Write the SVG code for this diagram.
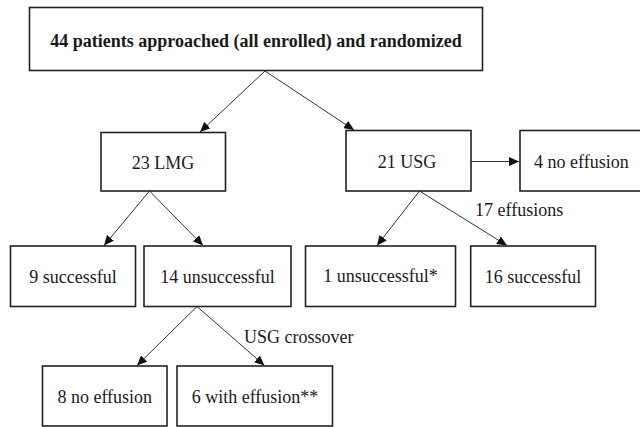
<svg xmlns="http://www.w3.org/2000/svg" width="640" height="427" viewBox="0 0 640 427">
<style>
.box{fill:#fff;stroke:#222;stroke-width:1.6}
.t{font-family:"Liberation Serif","Times New Roman",serif;font-size:18px;fill:#1a1a1a}
.c{text-anchor:middle}
.b{font-weight:bold}
.ln{stroke:#333;stroke-width:1;fill:none;marker-end:url(#ah)}
</style>
<defs>
<marker id="ah" markerUnits="userSpaceOnUse" markerWidth="11" markerHeight="9" refX="10" refY="4.5" orient="auto">
<path d="M0,0 L10,4.5 L0,9 z" fill="#111"/>
</marker>
</defs>
<rect width="640" height="427" fill="#fff"/>
<g id="connectors">
<line class="ln" x1="265" y1="71" x2="200" y2="132"/>
<line class="ln" x1="265" y1="71" x2="354" y2="130"/>
<line class="ln" x1="471" y1="161.5" x2="519" y2="161.5"/>
<line class="ln" x1="149.5" y1="191" x2="104" y2="245.5"/>
<line class="ln" x1="149.5" y1="191" x2="203" y2="245.5"/>
<line class="ln" x1="419.5" y1="191" x2="377" y2="245.5"/>
<line class="ln" x1="419.5" y1="191" x2="507" y2="245.5"/>
<line class="ln" x1="197" y1="306.5" x2="137" y2="365.5"/>
<line class="ln" x1="197" y1="306.5" x2="264.5" y2="365.5"/>
<text class="t" x="475" y="216">17 effusions</text>
<text class="t" x="244" y="342.5">USG crossover</text>
</g>
<g id="n-top">
<rect class="box" x="29.5" y="7.5" width="453" height="63"/>
<text class="t b c" x="256" y="47">44 patients approached (all enrolled) and randomized</text>
</g>
<g id="n-lmg">
<rect class="box" x="101" y="132.5" width="124.5" height="58.5"/>
<text class="t c" x="163" y="169">23 LMG</text>
</g>
<g id="n-usg">
<rect class="box" x="346" y="130.5" width="125" height="60.5"/>
<text class="t c" x="407" y="168">21 USG</text>
</g>
<g id="n-noeff4">
<rect class="box" x="520" y="130.5" width="130" height="60.5"/>
<text class="t" x="534" y="168">4 no effusion</text>
</g>
<g id="n-succ9">
<rect class="box" x="10.5" y="246" width="125" height="60.5"/>
<text class="t c" x="73" y="283">9 successful</text>
</g>
<g id="n-unsucc14">
<rect class="box" x="144" y="246" width="147" height="60.5"/>
<text class="t c" x="217.5" y="283">14 unsuccessful</text>
</g>
<g id="n-unsucc1">
<rect class="box" x="305.5" y="246" width="150" height="60.5"/>
<text class="t c" x="380.5" y="282">1 unsuccessful*</text>
</g>
<g id="n-succ16">
<rect class="box" x="470.7" y="246" width="124.8" height="60.5"/>
<text class="t c" x="533" y="283">16 successful</text>
</g>
<g id="n-noeff8">
<rect class="box" x="42.5" y="366" width="124.5" height="60"/>
<text class="t c" x="104.8" y="403">8 no effusion</text>
</g>
<g id="n-witheff6">
<rect class="box" x="177" y="366" width="155.5" height="60"/>
<text class="t c" x="255" y="403">6 with effusion**</text>
</g>
</svg>
